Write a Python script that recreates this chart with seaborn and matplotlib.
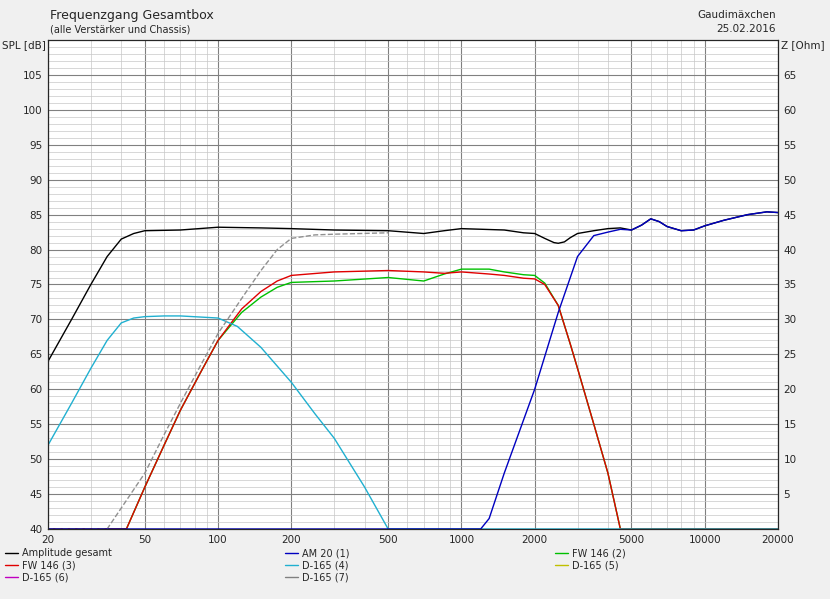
import numpy as np
import pandas as pd
import matplotlib
matplotlib.use("Agg")
import matplotlib.pyplot as plt
import seaborn as sns
from matplotlib.lines import Line2D

sns.set_style("white")
plt.rcParams['font.family'] = ['DejaVu Sans']

amp_f = [20, 25, 30, 35, 40, 45, 50, 70, 100, 150, 200, 300, 500, 700, 850, 1000, 1500, 1800, 2000, 2200, 2400, 2500, 2650, 2800, 3000, 3500, 4000, 4500, 5000, 5500, 6000, 6500, 7000, 8000, 9000, 10000, 12000, 15000, 18000, 20000]
amp_v = [64, 70, 75, 79, 81.5, 82.3, 82.7, 82.8, 83.2, 83.1, 83.0, 82.8, 82.7, 82.3, 82.7, 83.0, 82.8, 82.4, 82.3, 81.6, 81.0, 80.9, 81.1, 81.7, 82.3, 82.7, 83.0, 83.1, 82.8, 83.5, 84.4, 84.0, 83.3, 82.7, 82.8, 83.4, 84.2, 85.0, 85.4, 85.3]

am20_f = [20, 1000, 1200, 1300, 1500, 2000, 2500, 3000, 3500, 4000, 4500, 5000, 5500, 6000, 6500, 7000, 8000, 9000, 10000, 12000, 15000, 18000, 20000]
am20_v = [40, 40, 40, 41.5, 48, 60, 71, 79, 82, 82.5, 82.9, 82.8, 83.5, 84.4, 84.0, 83.3, 82.7, 82.8, 83.4, 84.2, 85.0, 85.4, 85.3]

fw2_f = [20, 42, 50, 60, 70, 85, 100, 125, 150, 175, 200, 300, 500, 700, 850, 1000, 1300, 1500, 1800, 2000, 2200, 2500, 2800, 3000, 3500, 4000, 4500, 20000]
fw2_v = [40, 40, 46, 52, 57, 62.5, 67, 71, 73.2, 74.6, 75.3, 75.5, 76.0, 75.5, 76.5, 77.2, 77.2, 76.8, 76.4, 76.3, 75.2, 72, 66.5, 63, 55, 48, 40, 40]

fw3_f = [20, 42, 50, 60, 70, 85, 100, 125, 150, 175, 200, 300, 500, 700, 850, 1000, 1300, 1500, 1800, 2000, 2200, 2500, 2800, 3000, 3500, 4000, 4500, 20000]
fw3_v = [40, 40, 46, 52, 57, 62.5, 67, 71.5, 74, 75.5, 76.3, 76.8, 77.0, 76.8, 76.6, 76.8, 76.5, 76.3, 75.9, 75.8, 75.0, 72, 66.5, 63, 55, 48, 40, 40]

d4_f = [20, 25, 30, 35, 40, 45, 50, 60, 70, 100, 120, 150, 200, 250, 300, 400, 500, 20000]
d4_v = [52, 58, 63, 67, 69.5, 70.2, 70.4, 70.5, 70.5, 70.2, 69, 66, 61, 56.5, 53, 46, 40, 40]

d7_f = [20, 35, 40, 50, 60, 70, 85, 100, 125, 150, 175, 200, 250, 300, 500]
d7_v = [40, 40, 43, 48, 53.5, 58, 63.5, 68, 73, 77, 80, 81.6, 82.1, 82.2, 82.4]

fig = plt.figure(figsize=(8.3, 5.99), dpi=100, facecolor="#f0f0f0")
ax = fig.add_axes([48/830, 70/599, 730/830, 489/599])
ax.set_facecolor("white")

series = [
    (amp_f, amp_v, "black", "-"),
    (fw2_f, fw2_v, "#00c000", "-"),
    (fw3_f, fw3_v, "#e00000", "-"),
    (d4_f, d4_v, "#20b0d0", "-"),
    (d7_f, d7_v, "#909090", "--"),
    (am20_f, am20_v, "#0000c0", "-"),
]
for f, v, c, ls in series:
    sns.lineplot(x=f, y=v, ax=ax, color=c, linestyle=ls, linewidth=1.0, estimator=None, sort=False)

ax.set_xscale("log")
ax.set_xlim(20, 20000)
ax.set_ylim(40, 110)
xt = [20, 50, 100, 200, 500, 1000, 2000, 5000, 10000, 20000]
ax.set_xticks(xt)
ax.set_xticklabels([str(t) for t in xt])
minors = [m * 10**e for e in range(1, 5) for m in range(1, 10) if 20 <= m * 10**e <= 20000 and m * 10**e not in xt]
ax.xaxis.set_minor_locator(matplotlib.ticker.FixedLocator(minors))
ax.xaxis.set_minor_formatter(matplotlib.ticker.NullFormatter())
yt = list(range(40, 110, 5))
ax.set_yticks(yt)
ax.set_yticks([y for y in range(40, 110) if y % 5], minor=True)
ax.grid(which="major", color="#808080", linewidth=0.8, linestyle="-")
ax.grid(which="minor", color="#c8c8c8", linewidth=0.5, linestyle="-")
ax.set_axisbelow(True)
ax.tick_params(which="both", length=0, labelsize=7.5, pad=4)
for s in ax.spines.values():
    s.set_color("black"); s.set_linewidth(0.8)

ax2 = ax.twinx()
ax2.set_ylim(0, 70)
ax2.set_yticks(range(5, 70, 5))
ax2.tick_params(length=0, labelsize=7.5, pad=4)

fig.text(50/830, 1-15/599, "Frequenzgang Gesamtbox", fontsize=9, va="center")
fig.text(50/830, 1-30/599, "(alle Verstärker und Chassis)", fontsize=7, va="center")
fig.text(776/830, 1-15/599, "Gaudimäxchen", fontsize=7.5, va="center", ha="right")
fig.text(776/830, 1-29/599, "25.02.2016", fontsize=7.5, va="center", ha="right")
fig.text(2/830, 1-45/599, "SPL [dB]", fontsize=7.5, va="center")
fig.text(781/830, 1-45/599, "Z [Ohm]", fontsize=7.5, va="center")

def h(c, l):
    return Line2D([], [], color=c, lw=1, label=l)
cols = [
    (5, [h("black", "Amplitude gesamt"), h("#e00000", "FW 146 (3)"), h("#c000c0", "D-165 (6)")]),
    (285, [h("#0000c0", "AM 20 (1)"), h("#20b0d0", "D-165 (4)"), h("#808080", "D-165 (7)")]),
    (555, [h("#00c000", "FW 146 (2)"), h("#c0c000", "D-165 (5)")]),
]
for x, hs in cols:
    fig.legend(handles=hs, loc="upper left", bbox_to_anchor=(x/830, 1-548/599),
               frameon=False, fontsize=7, handlelength=1.3, handletextpad=0.4,
               labelspacing=0.25, borderaxespad=0, borderpad=0)

fig.savefig("out.png", dpi=100, facecolor=fig.get_facecolor())
